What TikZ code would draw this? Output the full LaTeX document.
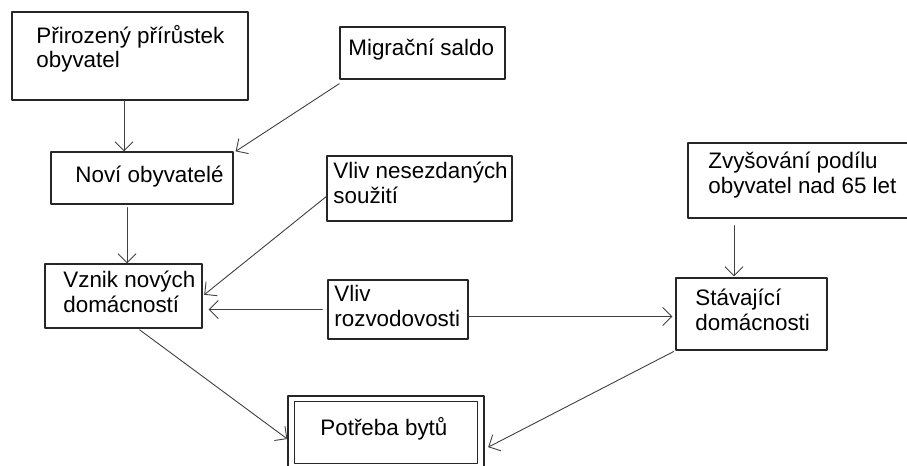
\documentclass[tikz,border=0pt]{standalone}
\usepackage{fontspec}
\setmainfont{Liberation Sans}
\usetikzlibrary{arrows.meta,fit}
\begin{document}
\begin{tikzpicture}[x=0.5pt,y=-0.5pt,line join=round,line cap=round,>={Straight Barb[length=4.5pt,width=9pt]}]
	\tikzset{box/.style={draw=black!85,line width=0.65pt,inner sep=0pt},
		txt/.style={anchor=base west,inner sep=0pt,align=left,font=\fontsize{11.2}{12.4}\selectfont},
		arr/.style={->,draw=black!75,line width=0.45pt}}
	\useasboundingbox (0,0) rectangle (907,466);
	% boxes
	\node[box,fit={(12,12) (248,100)}] (prir) {};
	\node[box,fit={(340,27) (505,79)}] (migr) {};
	\node[box,fit={(51,152) (233,204)}] (novi) {};
	\node[box,fit={(327,156) (512,221)}] (nesez) {};
	\node[box,fit={(688,143) (909,218)}] (zvys) {};
	\node[box,fit={(45,264) (202,328)}] (vznik) {};
	\node[box,fit={(328,280) (468,339)}] (rozv) {};
	\node[box,fit={(676,278) (827,350)}] (stav) {};
	\node[box,fit={(288,396) (484,470)}] (potr) {};
	\draw[box] ([shift={(3.5pt,-3pt)}]potr.north west) rectangle ([shift={(-3.5pt,3.5pt)}]potr.south east);
	% texts (base = last line)
	\node[txt] (prir-t) at (36,68) {Přirozený přírůstek\\obyvatel};
	\node[txt] (migr-t) at (348,55) {Migrační saldo};
	\node[txt] (novi-t) at (75,182) {Noví obyvatelé};
	\node[txt] (nesez-t) at (333,203) {Vliv nesezdaných\\soužití};
	\node[txt] (zvys-t) at (708,193) {Zvyšování podílu\\obyvatel nad 65 let};
	\node[txt] (vznik-t) at (63,312) {Vznik nových\\domácností};
	\node[txt] (rozv-t) at (334,326) {Vliv\\rozvodovosti};
	\node[txt] (stav-t) at (695,330) {Stávající\\domácnosti};
	\node[txt] (potr-t) at (320,435) {Potřeba bytů};
	% arrows
	\draw[arr] (124,0 |- prir.south) -- (124,0 |- novi.north);
	\draw[arr] ([yshift=-2pt]migr.south west) -- ([xshift=1pt]novi.north east);
	\draw[arr,shorten <=1.5pt] (127,0 |- novi.south) -- (127,0 |- vznik.north);
	\draw[arr,shorten >=1pt] ([yshift=-4pt]nesez.west) -- (vznik.east);
	\draw[arr,shorten <=2.5pt,shorten >=3pt] (rozv.west) -- (rozv.west -| vznik.east);
	\coordinate (r) at ([yshift=-3.5pt]rozv.east);
	\draw[arr,shorten >=1.5pt] (r) -- (r -| stav.west);
	\draw[arr,shorten <=3.5pt,shorten >=0.5pt] (734,0 |- zvys.south) -- (734,0 |- stav.north);
	\draw[arr,shorten <=1pt] (138,0 |- vznik.south) -- (potr.west |- 0,439);
	\draw[arr,shorten <=1pt,shorten >=2pt] (stav.south west) -- (potr.east |- 0,449);
\end{tikzpicture}
\end{document}
